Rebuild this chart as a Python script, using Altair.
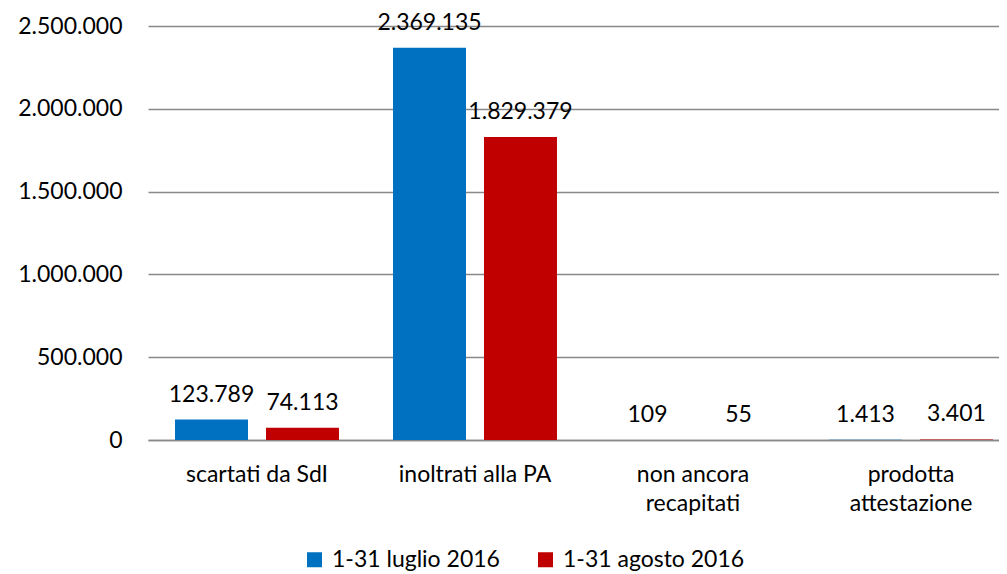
import altair as alt
import pandas as pd

categories = ["scartati da SdI", "inoltrati alla PA", "non ancora\nrecapitati", "prodotta\nattestazione"]
series = ["1-31 luglio 2016", "1-31 agosto 2016"]
luglio = [123789, 2369135, 109, 1413]
agosto = [74113, 1829379, 55, 3401]
y_ticks = [0, 500000, 1000000, 1500000, 2000000, 2500000]
colors = ["#0070C0", "#C00000"]

rows = []
for c, a, b in zip(categories, luglio, agosto):
    rows.append({"cat": c, "serie": series[0], "val": a})
    rows.append({"cat": c, "serie": series[1], "val": b})
df = pd.DataFrame(rows)

FONT = "Lato"
fmt = "replace(format(datum.val, ','), regexp(',', 'g'), '.')"

base = alt.Chart(df).encode(
    x=alt.X("cat:N", sort=categories, title=None,
            scale=alt.Scale(paddingInner=0, paddingOuter=0, range=[0, 872]),
            axis=alt.Axis(labelExpr="split(datum.label, '\\n')", labelAngle=0,
                          labelFontSize=23, labelFont=FONT, labelColor="#000000",
                          labelLineHeight=29, labelPadding=23, ticks=False,
                          domainColor="#898989", domainWidth=1.5, grid=False)),
    xOffset=alt.XOffset("serie:N", sort=series,
                        scale=alt.Scale(paddingInner=0.198, paddingOuter=0.297)),
)

bars = base.mark_bar().encode(
    y=alt.Y("val:Q", title=None,
            scale=alt.Scale(domain=[0, 2500000], nice=False),
            axis=alt.Axis(values=y_ticks,
                          labelExpr="replace(format(datum.value, ','), regexp(',', 'g'), '.')",
                          labelFontSize=23, labelFont=FONT, labelColor="#000000",
                          labelPadding=26, ticks=False, domain=False,
                          gridColor="#898989", gridWidth=1.3)),
    color=alt.Color("serie:N", sort=series,
                    scale=alt.Scale(domain=series, range=colors),
                    legend=alt.Legend(title=None, orient="none", direction="horizontal",
                                      legendX=155, legendY=522,
                                      symbolType="square", symbolSize=225,
                                      symbolStrokeWidth=0, symbolOpacity=1,
                                      labelFontSize=23, labelFont=FONT, labelColor="#000000",
                                      labelLimit=400,
                                      labelOffset=6, columnPadding=34, padding=0)),
)

labels = base.mark_text(baseline="alphabetic", dy=-18, fontSize=23, font=FONT,
                        color="#000000").transform_calculate(
    lbl=fmt
).encode(
    y=alt.Y("val:Q"),
    text="lbl:N",
)

chart = alt.layer(bars, labels).properties(
    width=851, height=414,
    autosize=alt.AutoSizeParams(type="none"),
    padding={"left": 140, "top": 18, "right": 0, "bottom": 136},
).configure_view(stroke=None)

chart.save("out.html", embed_options={"renderer": "svg", "actions": False})
